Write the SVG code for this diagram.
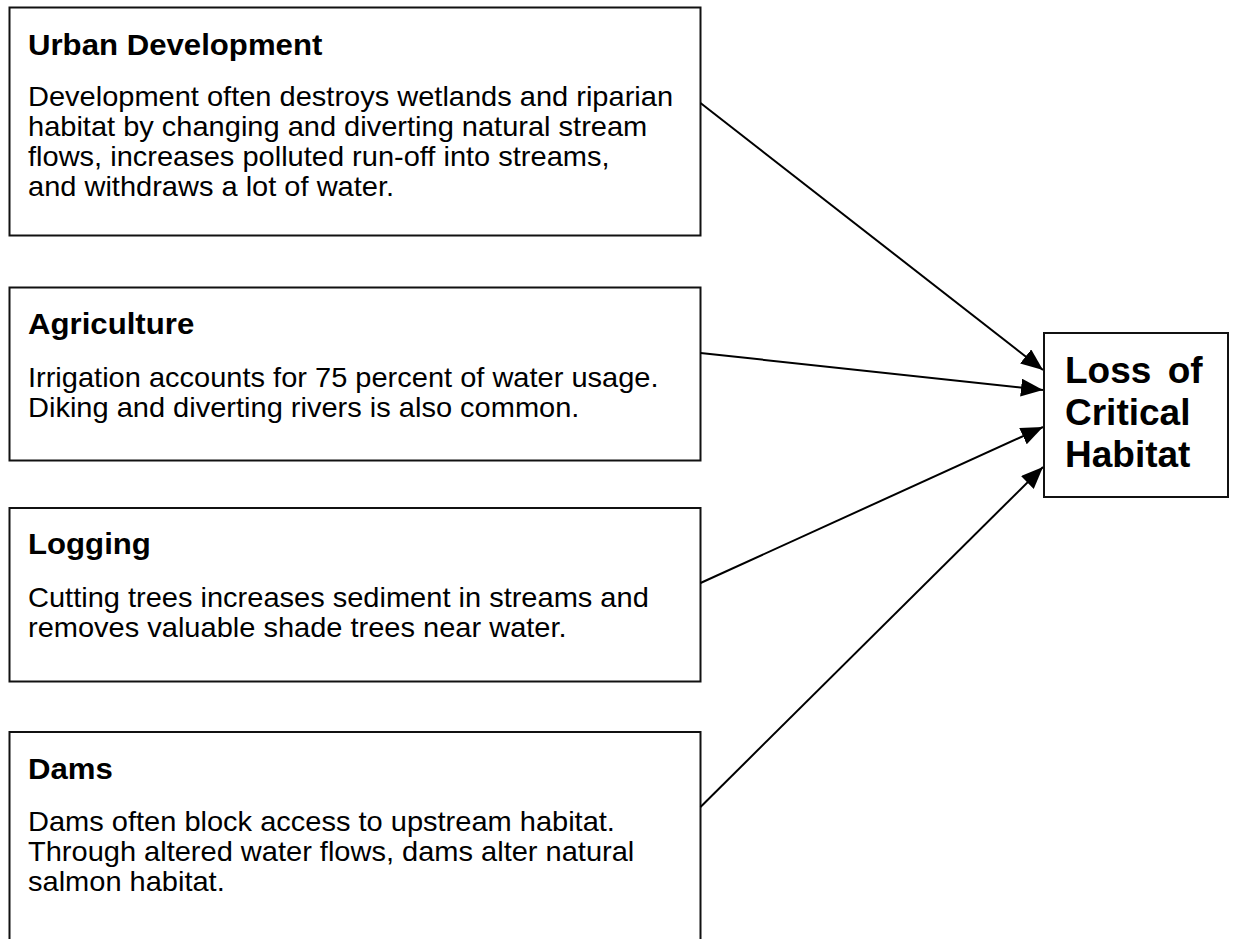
<svg xmlns="http://www.w3.org/2000/svg" width="1237" height="939" viewBox="0 0 1237 939">
<style>
.box{fill:#fff;stroke:#111;stroke-width:2}
.t{font-family:"Liberation Sans",Arial,sans-serif;font-weight:bold;font-size:29px;fill:#000}
.b{font-family:"Liberation Sans",Arial,sans-serif;font-size:27px;fill:#000}
.big{font-family:"Liberation Sans",Arial,sans-serif;font-weight:bold;font-size:37px;fill:#000}
.c{stroke:#000;stroke-width:2;fill:none;marker-end:url(#ah)}
</style>
<defs>
<marker id="ah" markerUnits="userSpaceOnUse" markerWidth="24" markerHeight="18" refX="22" refY="9" orient="auto">
<path d="M0,0 L22,9 L0,18 z" fill="#000"/>
</marker>
</defs>
<rect width="1237" height="939" fill="#fff"/>
<g id="urban">
<rect class="box" x="9.5" y="7.5" width="691" height="228"/>
<g transform="matrix(1.075 0 0 1 -2.1 0)">
<text class="t" x="28" y="55">Urban Development</text>
<text class="b" x="28" y="106">Development often destroys wetlands and riparian</text>
<text class="b" x="28" y="136">habitat by changing and diverting natural stream</text>
<text class="b" x="28" y="166">flows, increases polluted run-off into streams,</text>
<text class="b" x="28" y="196">and withdraws a lot of water.</text>
</g>
</g>
<g id="agriculture">
<rect class="box" x="9.5" y="287.5" width="691" height="173"/>
<g transform="matrix(1.075 0 0 1 -2.1 0)">
<text class="t" x="28" y="334">Agriculture</text>
<text class="b" x="28" y="387">Irrigation accounts for 75 percent of water usage.</text>
<text class="b" x="28" y="417">Diking and diverting rivers is also common.</text>
</g>
</g>
<g id="logging">
<rect class="box" x="9.5" y="508" width="691" height="173.5"/>
<g transform="matrix(1.075 0 0 1 -2.1 0)">
<text class="t" x="28" y="554">Logging</text>
<text class="b" x="28" y="607">Cutting trees increases sediment in streams and</text>
<text class="b" x="28" y="637">removes valuable shade trees near water.</text>
</g>
</g>
<g id="dams">
<rect class="box" x="9.5" y="732" width="691" height="220"/>
<g transform="matrix(1.075 0 0 1 -2.1 0)">
<text class="t" x="28" y="779">Dams</text>
<text class="b" x="28" y="831">Dams often block access to upstream habitat.</text>
<text class="b" x="28" y="861">Through altered water flows, dams alter natural</text>
<text class="b" x="28" y="891">salmon habitat.</text>
</g>
</g>
<g id="loss">
<rect class="box" x="1044" y="333" width="184" height="164"/>
<text class="big" x="1065" y="383" word-spacing="6">Loss of</text>
<text class="big" x="1065" y="425">Critical</text>
<text class="big" x="1065" y="467">Habitat</text>
</g>
<g id="connectors">
<line class="c" x1="700.5" y1="103" x2="1043" y2="370"/>
<line class="c" x1="700.5" y1="353" x2="1043" y2="390"/>
<line class="c" x1="700.5" y1="583" x2="1043" y2="427"/>
<line class="c" x1="700.5" y1="807" x2="1043" y2="467"/>
</g>
</svg>
